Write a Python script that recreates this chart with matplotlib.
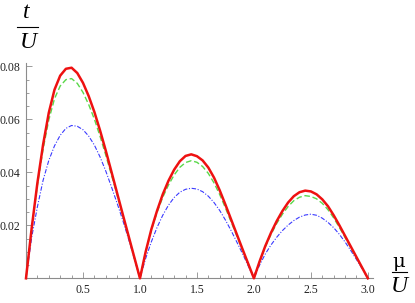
import numpy as np
import matplotlib.pyplot as plt
from matplotlib.ticker import MultipleLocator, FixedLocator

# chemical potential grid (mu/U), one lobe per unit interval
mu = np.round(np.arange(0, 3.0001, 0.05), 2)

red_1 = [0, 0.019, 0.036, 0.0505, 0.0625, 0.0712, 0.0765, 0.0791, 0.0795, 0.0775, 0.0738,
         0.0688, 0.0628, 0.0558, 0.0482, 0.0402, 0.0321, 0.024, 0.016, 0.008, 0]
red_2 = [0, 0.010, 0.0185, 0.0255, 0.0317, 0.0368, 0.041, 0.0442, 0.0462, 0.0468, 0.0461,
         0.0445, 0.0418, 0.038, 0.0332, 0.0278, 0.0222, 0.0166, 0.011, 0.0055, 0]
red_3 = [0, 0.0064, 0.0122, 0.0172, 0.0216, 0.0254, 0.0286, 0.031, 0.0325, 0.0331, 0.0328,
         0.0317, 0.0298, 0.0272, 0.0238, 0.020, 0.016, 0.012, 0.008, 0.004, 0]

green_1 = [0, 0.0188, 0.0352, 0.0488, 0.0598, 0.0678, 0.0726, 0.075, 0.0754, 0.0736, 0.0702,
           0.0656, 0.0601, 0.0536, 0.0465, 0.039, 0.0314, 0.0236, 0.0158, 0.0079, 0]
green_2 = [0, 0.0099, 0.0182, 0.0249, 0.0306, 0.0352, 0.039, 0.0419, 0.0437, 0.0444, 0.0438,
           0.0422, 0.0396, 0.036, 0.0316, 0.0266, 0.0213, 0.016, 0.0106, 0.0053, 0]
green_3 = [0, 0.0063, 0.0119, 0.0166, 0.0207, 0.0242, 0.0271, 0.0293, 0.0306, 0.0312, 0.0309,
           0.030, 0.0283, 0.0259, 0.0228, 0.0192, 0.0154, 0.0116, 0.0078, 0.0039, 0]

blue_1 = [0, 0.0155, 0.027, 0.037, 0.0445, 0.05, 0.054, 0.0566, 0.0577, 0.0574, 0.0561,
          0.0537, 0.0503, 0.0458, 0.0405, 0.0345, 0.0283, 0.0218, 0.0148, 0.0075, 0]
blue_2 = [0, 0.0075, 0.0138, 0.0192, 0.0238, 0.0276, 0.0305, 0.0325, 0.0336, 0.034, 0.0337,
          0.0327, 0.031, 0.0286, 0.0256, 0.022, 0.018, 0.0137, 0.0093, 0.0047, 0]
blue_3 = [0, 0.005, 0.0092, 0.0126, 0.0155, 0.018, 0.0201, 0.0218, 0.0231, 0.0239, 0.0242,
          0.0238, 0.0227, 0.0211, 0.0191, 0.0166, 0.0137, 0.0105, 0.0071, 0.0036, 0]


def join(a, b, c):
    return np.array(a + b[1:] + c[1:])


red = join(red_1, red_2, red_3)
green = join(green_1, green_2, green_3)
blue = join(blue_1, blue_2, blue_3)

plt.rcParams['font.family'] = ['Liberation Serif', 'DejaVu Serif']

fig = plt.figure(figsize=(4.15, 3.03), dpi=100)
ax = fig.add_axes([26 / 415, 24.7 / 303, 347 / 415, 215.6 / 303])

ax.plot(mu, blue, color='#3a3aff', lw=0.8, dashes=(4, 1.5, 1, 1.5), clip_on=False, zorder=3)
ax.plot(mu, green, color='#5ad84a', lw=1.0, dashes=(4, 2), clip_on=False, zorder=4)
ax.plot(mu, red, color='#ee1111', lw=1.8, clip_on=False, zorder=5)

ax.set_xlim(0, 3.045)
ax.set_ylim(0, 0.0814)

for s in ['top', 'right']:
    ax.spines[s].set_visible(False)
for s in ['left', 'bottom']:
    ax.spines[s].set_color('#8c8c8c')
    ax.spines[s].set_linewidth(0.8)

ax.xaxis.set_major_locator(FixedLocator([0.5, 1.0, 1.5, 2.0, 2.5, 3.0]))
ax.xaxis.set_minor_locator(MultipleLocator(0.1))
ax.yaxis.set_major_locator(FixedLocator([0.02, 0.04, 0.06, 0.08]))
ax.yaxis.set_minor_locator(MultipleLocator(0.005))
ax.xaxis.set_major_formatter(plt.FuncFormatter(lambda v, p: f"{v:.1f}"))
ax.yaxis.set_major_formatter(plt.FuncFormatter(lambda v, p: f"{v:.2f}"))

ax.tick_params(which='both', direction='in', color='#8c8c8c', width=0.6,
               labelsize=8.5, labelcolor='#222222')
ax.tick_params(which='major', length=4.5, pad=4)
ax.tick_params(which='minor', length=2.5)

# axis labels drawn as stacked fractions
fig.text(26 / 415, 1 - 13 / 303, 't', style='italic', fontsize=17, ha='center', va='center')
fig.add_artist(plt.Line2D([17 / 415, 38 / 415], [1 - 27 / 303, 1 - 27 / 303], color='black', lw=0.8))
fig.text(28 / 415, 1 - 43 / 303, 'U', style='italic', fontsize=17, ha='center', va='center')

fig.text(399 / 415, 1 - 262 / 303, 'μ', fontsize=14, ha='center', va='center',
         family=['DejaVu Serif'])
fig.add_artist(plt.Line2D([392 / 415, 407 / 415], [1 - 272 / 303, 1 - 272 / 303], color='black', lw=0.8))
fig.text(399 / 415, 1 - 287 / 303, 'U', style='italic', fontsize=17, ha='center', va='center')

fig.savefig('out.png', dpi=100)
